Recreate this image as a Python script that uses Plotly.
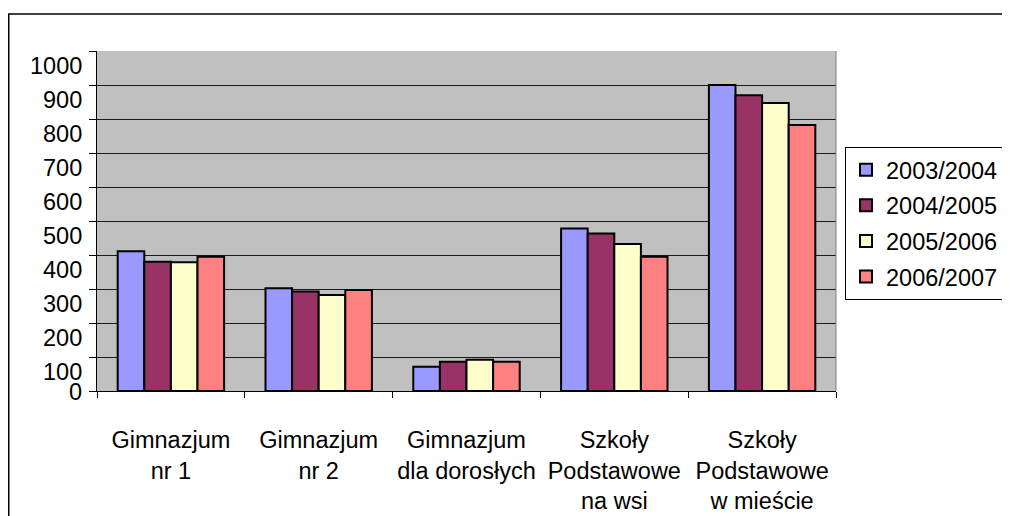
import plotly.graph_objects as go

categories = ["Gimnazjum<br>nr 1", "Gimnazjum<br>nr 2", "Gimnazjum<br>dla dorosłych",
              "Szkoły<br>Podstawowe<br>na wsi", "Szkoły<br>Podstawowe<br>w mieście"]
series_names = ["2003/2004", "2004/2005", "2005/2006", "2006/2007"]
v_2003_2004 = [411, 302, 71, 478, 900]
v_2004_2005 = [380, 293, 86, 463, 870]
v_2005_2006 = [379, 282, 92, 432, 847]
v_2006_2007 = [395, 297, 86, 395, 782]
series_values = [v_2003_2004, v_2004_2005, v_2005_2006, v_2006_2007]
y_ticks = [0, 100, 200, 300, 400, 500, 600, 700, 800, 900, 1000]

colors = ["#9999FF", "#993366", "#FFFFCC", "#FF8080"]
FONT = "Liberation Sans, Arial, sans-serif"
FS = 23.5

fig = go.Figure()
for name, vals, col in zip(series_names, series_values, colors):
    fig.add_trace(go.Bar(x=categories, y=vals, name=name, legendgroup=name,
                         marker=dict(color=col, line=dict(color="black", width=2))))

# page has an 8px body margin, so the figure is 8px smaller and offset
OFF = 8
W, H = 1010 - OFF, 516 - OFF
L, R, T, B = 97 - OFF, 836 - OFF, 51 - OFF, 391 - OFF
PW, PH = R - L, B - T

fig.update_layout(
    width=W, height=H,
    margin=dict(l=L, r=W - R, t=T, b=H - B, pad=0, autoexpand=False),
    paper_bgcolor="white", plot_bgcolor="#C0C0C0",
    barmode="group", bargap=0.28, bargroupgap=0,
    font=dict(family=FONT, size=FS, color="black"),
    showlegend=True,
    legend=dict(x=(845 - OFF - L) / PW, y=(B - (147 - OFF)) / PH, xanchor="left", yanchor="top",
                bgcolor="white", bordercolor="black", borderwidth=1,
                font=dict(family=FONT, size=FS, color="black"),
                tracegroupgap=2, itemwidth=30, entrywidth=150, entrywidthmode="pixels"),
)
fig.update_xaxes(showline=True, linecolor="black", linewidth=1, ticks="outside",
                 tickson="boundaries", ticklen=6, tickcolor="black", showgrid=False,
                 ticklabelstandoff=28, tickfont=dict(family=FONT, size=FS), automargin=False)
fig.update_yaxes(range=[0, 1000], tickvals=y_ticks, showticklabels=False,
                 showline=True, linecolor="black", linewidth=1, ticks="outside", ticklen=7,
                 tickcolor="black", showgrid=True, gridcolor="#1a1a1a", gridwidth=1,
                 zeroline=False, automargin=False)

# y tick labels (offset as in reference)
for v in y_ticks:
    fig.add_annotation(xref="paper", yref="y", x=0, y=v, text=str(v), showarrow=False,
                       xanchor="right", yanchor="middle", xshift=-13,
                       yshift=(-15 if v > 0 else -1),
                       font=dict(family=FONT, size=FS, color="black"))

# plot area right border
fig.add_shape(type="line", xref="paper", yref="paper", x0=1, x1=1, y0=0, y1=1,
              line=dict(color="#808080", width=1))
# outer chart border (runs off the image at right and bottom)
fig.add_shape(type="rect", xref="paper", yref="paper",
              x0=(0.75 - L) / PW, x1=1.5, y0=-1.0, y1=(B - (14 - OFF)) / PH,
              line=dict(color="black", width=1.5), layer="below")

fig.write_html("out.html")
